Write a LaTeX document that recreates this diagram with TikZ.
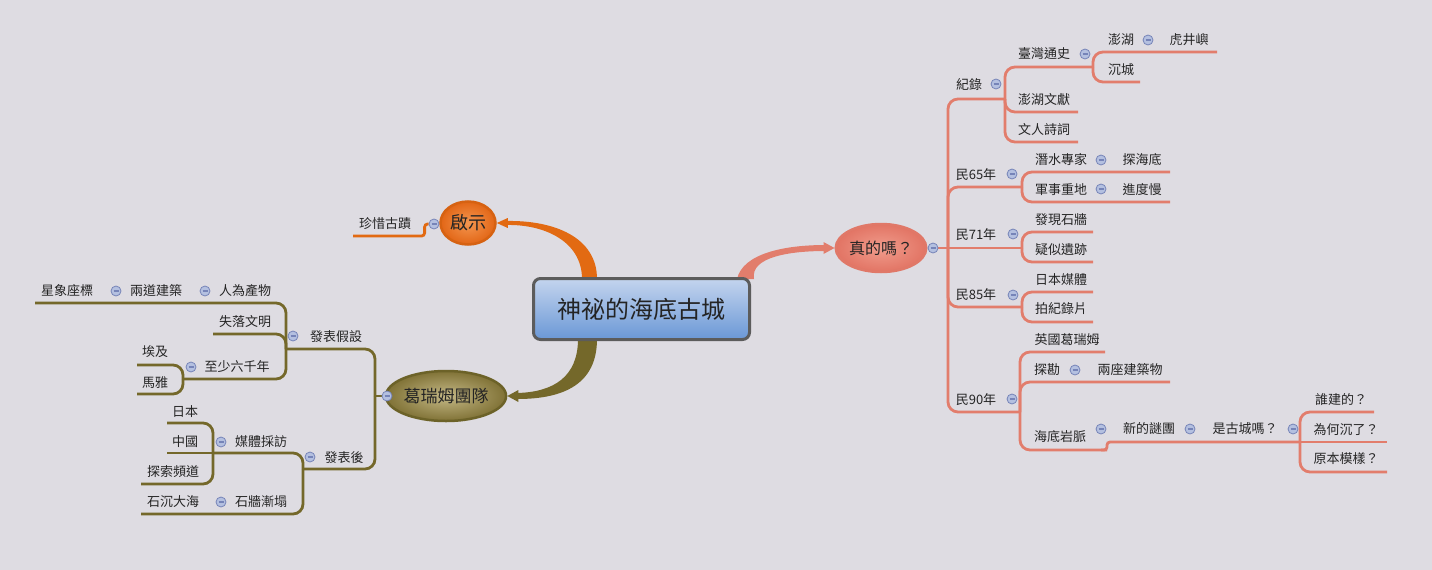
\documentclass[tikz,border=0pt]{standalone}
\usepackage{fontspec}
\usepackage{tikz}
\usepackage{xcolor}
\setmainfont{Noto Sans CJK TC}
\usetikzlibrary{calc,shapes.geometric}
\definecolor{bgGray}{RGB}{222,220,226}
\definecolor{txtDark}{RGB}{36,36,36}
\definecolor{salmonLn}{RGB}{226,125,108}
\definecolor{oliveLn}{RGB}{116,104,42}
\definecolor{orangeLn}{RGB}{226,106,18}
\definecolor{boxBorder}{RGB}{92,92,92}
\definecolor{topBlue}{RGB}{196,212,238}
\definecolor{botBlue}{RGB}{106,152,214}
\definecolor{markFill}{RGB}{180,192,224}
\definecolor{markDraw}{RGB}{118,132,184}
\definecolor{qsIn}{RGB}{244,150,80}
\definecolor{qsOut}{RGB}{226,102,22}
\definecolor{qsDraw}{RGB}{214,98,18}
\definecolor{tdIn}{RGB}{196,184,134}
\definecolor{tdOut}{RGB}{128,114,54}
\definecolor{tdDraw}{RGB}{108,98,40}
\definecolor{zdIn}{RGB}{240,156,140}
\definecolor{zdOut}{RGB}{226,116,100}
\definecolor{zdDraw}{RGB}{224,120,104}
\pgfdeclarelayer{bg}
\pgfsetlayers{bg,main}
\tikzset{
    topic/.style={rectangle, rounded corners=7pt, draw=boxBorder, line width=3pt, top color=topBlue, bottom color=botBlue, minimum width=216pt, minimum height=61pt, font=\fontsize{24}{28}\selectfont, text=txtDark},
    branch/.style={ellipse, line width=2.5pt, inner sep=0pt, text=txtDark},
    leaf/.style={font=\fontsize{13}{15}\selectfont, text=txtDark, inner sep=1pt},
    foldmark/.style={circle, draw=markDraw, fill=markFill, line width=0.8pt, minimum size=10pt, inner sep=0pt,
        path picture={\draw[markDraw, line width=1.3pt] ($(path picture bounding box.west)+(2.5pt,0)$) -- ($(path picture bounding box.east)+(-2.5pt,0)$);}}
}

\begin{document}
\begin{tikzpicture}[
    x=1pt, y=-1pt,
    redline/.style={draw=salmonLn, line width=2.8pt, rounded corners=10pt},
    oliveline/.style={draw=oliveLn, line width=2.8pt, rounded corners=10pt},
    orangeline/.style={draw=orangeLn, line width=2.8pt, rounded corners=3pt}
]
\begin{pgfonlayer}{bg}
\fill[bgGray] (0,0) rectangle (1432,570);
\end{pgfonlayer}
\useasboundingbox (0,0) rectangle (1432,570);

% Topics
\node[topic] (main) at (641.5,309) {神祕的海底古城};
\node[branch, draw=qsDraw, inner color=qsIn, outer color=qsOut, minimum width=55pt, minimum height=43pt, font=\fontsize{18}{21}\selectfont] (qishi) at (468,223) {啟示};
\node[branch, draw=tdDraw, inner color=tdIn, outer color=tdOut, minimum width=105pt, minimum height=50pt, font=\fontsize{17}{20}\selectfont] (team) at (446,396) {葛瑞姆團隊};
\node[branch, draw=zdDraw, inner color=zdIn, outer color=zdOut, minimum width=86pt, minimum height=48pt, font=\fontsize{16}{19}\selectfont] (real) at (881,248) {真的嗎？};

% Right: 真的嗎？
\node[leaf] (jl) at (969,85) {紀錄};
\node[leaf] (tw) at (1044,54) {臺灣通史};
\node[leaf] (ph) at (1121,40) {澎湖};
\node[leaf] (hj) at (1189,40) {虎井嶼};
\node[leaf] (cc) at (1121,70) {沉城};
\node[leaf] (phwx) at (1044,100) {澎湖文獻};
\node[leaf] (wrsc) at (1044,130) {文人詩詞};
\node[leaf] (y65) at (976,175) {民65年};
\node[leaf] (qs) at (1061,160) {潛水專家};
\node[leaf] (thd) at (1142,160) {探海底};
\node[leaf] (js) at (1061,190) {軍事重地};
\node[leaf] (jdm) at (1142,190) {進度慢};
\node[leaf] (y71) at (976,235) {民71年};
\node[leaf] (fx) at (1061,220) {發現石牆};
\node[leaf] (ys) at (1061,250) {疑似遺跡};
\node[leaf] (y85) at (976,295) {民85年};
\node[leaf] (rb) at (1061,280) {日本媒體};
\node[leaf] (pj) at (1061,309) {拍紀錄片};
\node[leaf] (y90) at (976,400) {民90年};
\node[leaf] (yg) at (1067,340) {英國葛瑞姆};
\node[leaf] (tk) at (1047,370) {探勘};
\node[leaf] (lz) at (1130,370) {兩座建築物};
\node[leaf] (hd) at (1060,437) {海底岩脈};
\node[leaf] (xd) at (1149,429) {新的謎團};
\node[leaf] (sg) at (1245,429) {是古城嗎？};
\node[leaf] (sj) at (1341,400) {誰建的？};
\node[leaf] (wh) at (1346,430) {為何沉了？};
\node[leaf] (yb) at (1346,459) {原本模樣？};

% Left: 啟示 and 葛瑞姆團隊
\node[leaf] (zx) at (385,224) {珍惜古蹟};
\node[leaf] (fb) at (336,337) {發表假設};
\node[leaf] (rw) at (245,291) {人為產物};
\node[leaf] (ld) at (156,291) {兩道建築};
\node[leaf] (xx) at (67,291) {星象座標};
\node[leaf] (sl) at (245,322) {失落文明};
\node[leaf] (zs) at (237,367) {至少六千年};
\node[leaf] (aj) at (155,352) {埃及};
\node[leaf] (my) at (155,383) {馬雅};
\node[leaf] (fh) at (344,458) {發表後};
\node[leaf] (mt) at (261,442) {媒體採訪};
\node[leaf] (jp) at (185,412) {日本};
\node[leaf] (zg) at (185,442) {中國};
\node[leaf] (ts) at (173,472) {探索頻道};
\node[leaf] (sq) at (261,502) {石牆漸塌};
\node[leaf] (sc) at (173,502) {石沉大海};

% Fold marks
\node[foldmark] (m0) at (933,248) {};
\node[foldmark] (mjl) at (996,84) {};
\node[foldmark] (mtw) at (1085,54) {};
\node[foldmark] (mph) at (1148,40) {};
\node[foldmark] (m65) at (1012,174) {};
\node[foldmark] (mqs) at (1101,160) {};
\node[foldmark] (mjs) at (1101,189) {};
\node[foldmark] (m71) at (1013,234) {};
\node[foldmark] (m85) at (1013,295) {};
\node[foldmark] (m90) at (1012,399) {};
\node[foldmark] (mtk) at (1075,370) {};
\node[foldmark] (mhd) at (1101,429) {};
\node[foldmark] (mxd) at (1190,429) {};
\node[foldmark] (msg) at (1293,429) {};
\node[foldmark] (mqi) at (434,224) {};
\node[foldmark] (mtd) at (387,396) {};
\node[foldmark] (mfb) at (293,336) {};
\node[foldmark] (mrw) at (205,291) {};
\node[foldmark] (mld) at (116,291) {};
\node[foldmark] (mzs) at (191,367) {};
\node[foldmark] (mfh) at (310,457) {};
\node[foldmark] (mmt) at (221,442) {};
\node[foldmark] (msq) at (221,502) {};

% Forks and line ends
\coordinate (r0) at (948,248);
\coordinate (jl-f) at (1005,99);
\coordinate (tw-f) at (1093,67);
\coordinate (hj-e) at (1217,52);
\coordinate (cc-e) at (1140,82);
\coordinate (phwx-e) at (1078,112);
\coordinate (wrsc-e) at (1078,142);
\coordinate (y65-f) at (1022,187);
\coordinate (thd-e) at (1170,172);
\coordinate (jdm-e) at (1170,202);
\coordinate (y71-f) at (1022,248);
\coordinate (fx-e) at (1093,232);
\coordinate (ys-e) at (1093,262);
\coordinate (y85-f) at (1022,307);
\coordinate (rb-e) at (1093,292);
\coordinate (pj-e) at (1093,322);
\coordinate (y90-f) at (1020,412);
\coordinate (yg-e) at (1105,352);
\coordinate (lz-e) at (1170,382);
\coordinate (hd-s) at (1107,450);
\coordinate (sg-f) at (1300,442);
\coordinate (sj-e) at (1374,412);
\coordinate (wh-e) at (1387,442);
\coordinate (yb-e) at (1387,472);
\coordinate (zx-e) at (353,236);
\coordinate (g0) at (375,396);
\coordinate (fb-f) at (286,349);
\coordinate (xx-e) at (35,303);
\coordinate (sl-e) at (213,334);
\coordinate (zs-f) at (183,379);
\coordinate (aj-e) at (137,365);
\coordinate (my-e) at (137,394);
\coordinate (fh-f) at (303,469);
\coordinate (mt-f) at (213,453);
\coordinate (jp-e) at (167,423);
\coordinate (zg-e) at (167,453);
\coordinate (ts-e) at (141,484);
\coordinate (sc-e) at (141,514);

\begin{pgfonlayer}{bg}
% Main connectors
\fill[orangeLn] ($(main.north west)+(50,2)$) .. controls +(0,-38) and +(38,-1) .. ($(qishi.east)+(9,2)$)
    -- ($(qishi.east)+(9,-2)$) .. controls +(48,-1) and +(0,-42) .. ($(main.north west)+(65,2)$) -- cycle;
\fill[orangeLn] (qishi.east) -- ($(qishi.east)+(11,-5)$) -- ($(qishi.east)+(11,5)$) -- cycle;
\fill[oliveLn] ($(main.south west)+(46,-2)$) .. controls +(0,38) and +(36,-1) .. ($(team.east)+(10,-3)$)
    -- ($(team.east)+(10,3)$) .. controls +(48,0) and +(0,44) .. ($(main.south west)+(65,-2)$) -- cycle;
\fill[oliveLn] (team.east) -- ($(team.east)+(11,-6)$) -- ($(team.east)+(11,6)$) -- cycle;
\fill[salmonLn] ($(main.north east)+(-14,2)$) .. controls +(6,-26) and +(-40,0) .. ($(real.west)+(-9,-3)$)
    -- ($(real.west)+(-9,3)$) .. controls +(-36,0) and +(-4,-22) .. ($(main.north east)+(3,2)$) -- cycle;
\fill[salmonLn] (real.west) -- ($(real.west)+(-11,-6)$) -- ($(real.west)+(-11,6)$) -- cycle;

% Right branches
\draw[redline] (m0.east) -- (r0);
\draw[redline] (r0) |- (jl-f);
\draw[redline] (jl-f) |- (tw-f);
\draw[redline] (tw-f) |- (hj-e);
\draw[redline] (tw-f) |- (cc-e);
\draw[redline] (jl-f) |- (phwx-e);
\draw[redline] (jl-f) |- (wrsc-e);
\draw[redline] (r0) |- (y65-f);
\draw[redline] (y65-f) |- (thd-e);
\draw[redline] (y65-f) |- (jdm-e);
\draw[redline] (r0) -- (y71-f);
\draw[redline] (y71-f) |- (fx-e);
\draw[redline] (y71-f) |- (ys-e);
\draw[redline] (r0) |- (y85-f);
\draw[redline] (y85-f) |- (rb-e);
\draw[redline] (y85-f) |- (pj-e);
\draw[redline] (r0) |- (y90-f);
\draw[redline] (y90-f) |- (yg-e);
\draw[redline] (y90-f) |- (lz-e);
\draw[redline] (y90-f) |- (hd-s);
\draw[redline, rounded corners=3pt] (hd-s) ++(-6,0) -- (hd-s) |- (sg-f);
\draw[redline] (sg-f) |- (sj-e);
\draw[redline] (sg-f) -- (wh-e);
\draw[redline] (sg-f) |- (yb-e);

% Left branches
\draw[orangeline] (mqi.west) -- ++(-4,0) |- (zx-e);
\draw[oliveline] (mtd.west) -- (g0);
\draw[oliveline] (g0) |- (fb-f);
\draw[oliveline] (fb-f) |- (xx-e);
\draw[oliveline] (fb-f) |- (sl-e);
\draw[oliveline] (fb-f) |- (zs-f);
\draw[oliveline] (zs-f) |- (aj-e);
\draw[oliveline] (zs-f) |- (my-e);
\draw[oliveline] (g0) |- (fh-f);
\draw[oliveline] (fh-f) |- (mt-f);
\draw[oliveline] (fh-f) |- (sc-e);
\draw[oliveline] (mt-f) |- (jp-e);
\draw[oliveline] (mt-f) -- (zg-e);
\draw[oliveline] (mt-f) |- (ts-e);
\end{pgfonlayer}

\end{tikzpicture}
\end{document}
